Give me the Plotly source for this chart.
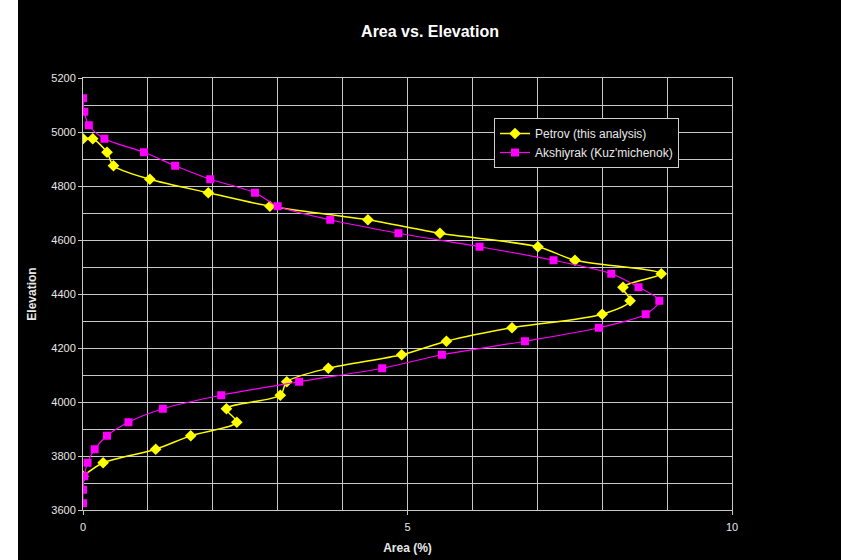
import plotly.graph_objects as go

petrov_elev = [4975, 4975, 4925, 4875, 4825, 4775, 4725, 4675, 4625, 4575, 4525, 4475,
               4425, 4375, 4325, 4275, 4225, 4175, 4125, 4075, 4025, 3975, 3925, 3875,
               3825, 3775, 3725]
petrov_area = [0.0, 0.15, 0.37, 0.47, 1.03, 1.93, 2.88, 4.39, 5.50, 7.01, 7.58, 8.91,
               8.32, 8.43, 8.00, 6.61, 5.60, 4.91, 3.78, 3.14, 3.04, 2.21, 2.37, 1.66,
               1.12, 0.31, 0.0]

aksh_elev = [5125, 5075, 5025, 4975, 4925, 4875, 4825, 4775, 4725, 4675, 4625, 4575,
             4525, 4475, 4425, 4375, 4325, 4275, 4225, 4175, 4125, 4075, 4025, 3975,
             3925, 3875, 3825, 3775, 3725, 3675, 3625]
aksh_area = [0.0, 0.02, 0.09, 0.33, 0.94, 1.42, 1.96, 2.65, 3.00, 3.81, 4.86, 6.11,
             7.25, 8.14, 8.56, 8.88, 8.67, 7.95, 6.81, 5.53, 4.61, 3.33, 2.13, 1.23,
             0.70, 0.37, 0.18, 0.07, 0.02, 0.0, 0.0]

x_ticks = [0, 5, 10]
y_ticks = [3600, 3800, 4000, 4200, 4400, 4600, 4800, 5000, 5200]

fig = go.Figure()
fig.add_trace(go.Scatter(
    x=petrov_area, y=petrov_elev, mode="lines+markers",
    name="Petrov (this analysis)",
    line=dict(color="#ffff00", width=1.5, shape="spline", smoothing=0.8),
    marker=dict(symbol="diamond", size=9, color="#ffff00"),
))
fig.add_trace(go.Scatter(
    x=aksh_area, y=aksh_elev, mode="lines+markers",
    name="Akshiyrak (Kuz'michenok)",
    line=dict(color="#ff00ff", width=1.2, shape="spline", smoothing=0.8),
    marker=dict(symbol="square", size=8, color="#ff00ff"),
))

LEFT = 18
W = 841 - LEFT
grid_col = "#c8c8c8"
font_col = "#e8e8e8"
plot_w = 732 - 83
plot_h = 510 - 78
fig.update_layout(
    width=W, height=560,
    paper_bgcolor="black", plot_bgcolor="black",
    margin=dict(l=83 - LEFT, r=841 - 732, t=78, b=50, autoexpand=False),
    font=dict(family="Liberation Sans, Arial", size=11, color=font_col),
    title=dict(text="<b>Area vs. Elevation</b>", x=(430 - LEFT) / W, xanchor="center",
               y=1 - 31 / 560, yanchor="middle",
               font=dict(size=16, color="white")),
    showlegend=True,
    legend=dict(x=(494 - 83) / plot_w, y=1 - (118 - 78) / plot_h,
                xanchor="left", yanchor="top",
                bgcolor="black", bordercolor="#d0d0d0", borderwidth=1,
                font=dict(size=12, color=font_col), tracegroupgap=0,
                itemwidth=30),
    xaxis=dict(range=[0, 10], tickvals=x_ticks, showgrid=True, gridcolor=grid_col,
               gridwidth=1, showline=True, linecolor=grid_col, mirror=True,
               ticks="outside", ticklen=4, tickcolor=grid_col, zeroline=False,
               tickfont=dict(size=11), ticklabelstandoff=3, automargin=False,
               minor=dict(dtick=1, showgrid=True, gridcolor=grid_col, gridwidth=1),
               title=dict(text="<b>Area (%)</b>", font=dict(size=12, color=font_col),
                          standoff=11)),
    yaxis=dict(range=[3600, 5200], tickvals=y_ticks, showgrid=True, gridcolor=grid_col,
               gridwidth=1, showline=True, linecolor=grid_col, mirror=True,
               ticks="outside", ticklen=4, tickcolor=grid_col, zeroline=False,
               tickfont=dict(size=11), automargin=False,
               minor=dict(dtick=100, showgrid=True, gridcolor=grid_col, gridwidth=1),
               title=dict(text="<b>Elevation</b>", font=dict(size=12, color=font_col),
                          standoff=12)),
)

post = ("document.body.style.margin='0';document.body.style.background='white';"
        "var d=document.getElementById('{plot_id}');d.style.marginLeft='%dpx';" % LEFT)
fig.write_html("out.html", post_script=post)
